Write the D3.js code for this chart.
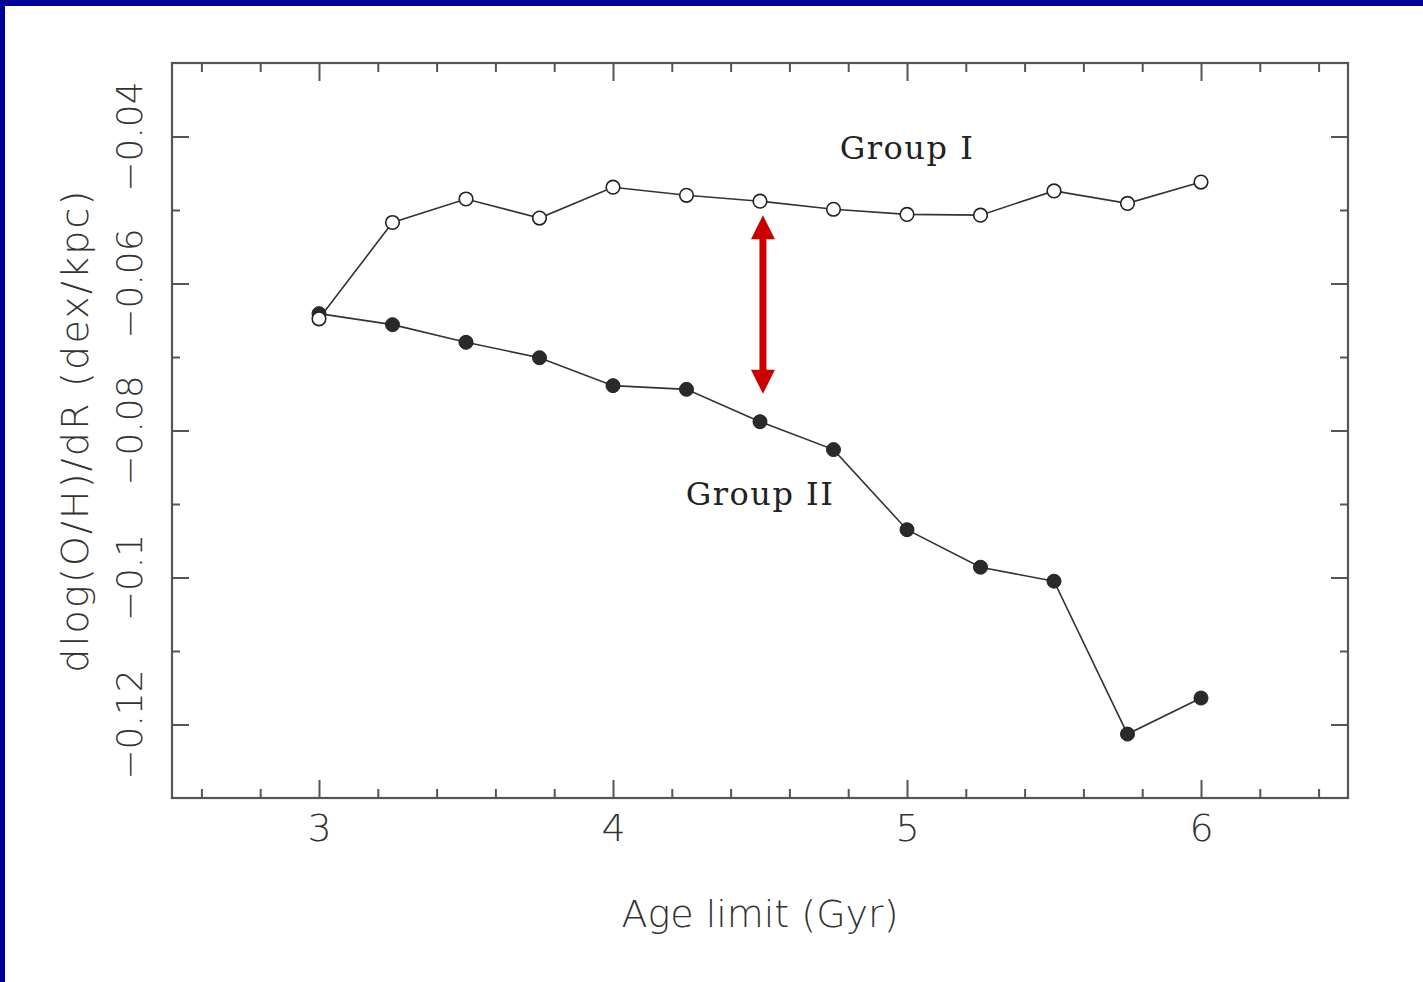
<!DOCTYPE html>
<html>
<head>
<meta charset="utf-8">
<script src="https://cdn.jsdelivr.net/npm/d3@7"></script>
<style>
  html, body { margin: 0; padding: 0; background: #fff; }
  svg { display: block; }
</style>
</head>
<body>
<svg id="chart" width="1423" height="982"></svg>
<script>
// ---- data ----
const ages = [3, 3.25, 3.5, 3.75, 4, 4.25, 4.5, 4.75, 5, 5.25, 5.5, 5.75, 6];
const groupI  = [-0.0648, -0.0517, -0.0485, -0.0511, -0.0469, -0.0480, -0.0488, -0.0499, -0.0506, -0.0507, -0.0474, -0.0491, -0.0462];
const groupII = [-0.0641, -0.0656, -0.0680, -0.0701, -0.0739, -0.0744, -0.0788, -0.0826, -0.0935, -0.0986, -0.1005, -0.1213, -0.1164];
const xMajorTicks = [3, 4, 5, 6];
const xMinorTicks = [2.6, 2.8, 3.2, 3.4, 3.6, 3.8, 4.2, 4.4, 4.6, 4.8, 5.2, 5.4, 5.6, 5.8, 6.2, 6.4];
const yMajorTicks = [-0.04, -0.06, -0.08, -0.1, -0.12];
const yMinorTicks = [-0.05, -0.07, -0.09, -0.11];
const yTickLabels = ["\u22120.04", "\u22120.06", "\u22120.08", "\u22120.1", "\u22120.12"];
const labels = [
  { text: "Group I",  x: 5.0,  y: -0.0431 },
  { text: "Group II", x: 4.5,  y: -0.0901 }
];
const arrow = { x: 4.51, yTop: -0.0507, yBottom: -0.0750 };
const xTitle = "Age limit (Gyr)";
const yTitle = "dlog(O/H)/dR (dex/kpc)";

// ---- layout ----
const svg = d3.select("#chart");
const W = 1423, H = 982;
const L = 172, R = 1348, T = 63, B = 798;
const axisColor = "#555";
const textColor = "#333";
const sansFont = "'DejaVu Sans', sans-serif";
const serifFont = "'DejaVu Serif', serif";

// blue frame (top and left)
svg.append("rect").attr("x", 0).attr("y", 0).attr("width", W).attr("height", H).attr("fill", "#fff");
svg.append("rect").attr("x", 0).attr("y", 0).attr("width", W).attr("height", 6).attr("fill", "#000099");
svg.append("rect").attr("x", 0).attr("y", 0).attr("width", 5).attr("height", H).attr("fill", "#000099");

const x = d3.scaleLinear().domain([2.5, 6.5]).range([L, R]);
const y = d3.scaleLinear().domain([-0.13, -0.03]).range([B, T]);

function styleAxis(g) {
  g.select(".domain").remove();
  g.selectAll(".tick line").attr("stroke", axisColor).attr("stroke-width", 2);
}

// bottom
svg.append("g").attr("transform", `translate(0,${B})`)
  .call(d3.axisBottom(x).tickValues(xMajorTicks).tickSize(-18).tickPadding(16).tickFormat(d3.format("d")))
  .call(styleAxis)
  .call(g => g.selectAll("text").attr("font-family", sansFont).attr("font-weight", 200)
      .attr("font-size", 38).attr("fill", textColor));
svg.append("g").attr("transform", `translate(0,${B})`)
  .call(d3.axisBottom(x).tickValues(xMinorTicks).tickSize(-9).tickFormat(""))
  .call(styleAxis);
// top
svg.append("g").attr("transform", `translate(0,${T})`)
  .call(d3.axisTop(x).tickValues(xMajorTicks).tickSize(-18).tickFormat(""))
  .call(styleAxis);
svg.append("g").attr("transform", `translate(0,${T})`)
  .call(d3.axisTop(x).tickValues(xMinorTicks).tickSize(-9).tickFormat(""))
  .call(styleAxis);
// left
svg.append("g").attr("transform", `translate(${L},0)`)
  .call(d3.axisLeft(y).tickValues(yMajorTicks).tickSize(-17).tickFormat((d, i) => yTickLabels[i]))
  .call(styleAxis)
  .call(g => g.selectAll("text").remove());
svg.append("g").attr("transform", `translate(${L},0)`)
  .call(d3.axisLeft(y).tickValues(yMinorTicks).tickSize(-8).tickFormat(""))
  .call(styleAxis);
// right
svg.append("g").attr("transform", `translate(${R},0)`)
  .call(d3.axisRight(y).tickValues(yMajorTicks).tickSize(-17).tickFormat(""))
  .call(styleAxis);
svg.append("g").attr("transform", `translate(${R},0)`)
  .call(d3.axisRight(y).tickValues(yMinorTicks).tickSize(-8).tickFormat(""))
  .call(styleAxis);

// rotated y tick labels
svg.append("g").selectAll("text").data(yMajorTicks).join("text")
  .attr("transform", d => `translate(142,${y(d)}) rotate(-90)`)
  .attr("text-anchor", "middle")
  .attr("font-family", sansFont).attr("font-weight", 200)
  .attr("font-size", 36).attr("fill", textColor)
  .text((d, i) => yTickLabels[i]);

// frame
svg.append("rect").attr("x", L).attr("y", T).attr("width", R - L).attr("height", B - T)
  .attr("fill", "none").attr("stroke", axisColor).attr("stroke-width", 2.2);

// axis titles
svg.append("text").attr("x", (L + R) / 2).attr("y", 927)
  .attr("text-anchor", "middle").attr("font-family", sansFont).attr("font-weight", 200)
  .attr("font-size", 38).attr("fill", textColor).text(xTitle);
svg.append("text").attr("transform", `translate(88,${(T + B) / 2}) rotate(-90)`)
  .attr("text-anchor", "middle").attr("font-family", sansFont).attr("font-weight", 200)
  .attr("font-size", 38).attr("letter-spacing", 2.2).attr("fill", textColor).text(yTitle);

// lines
const line = d3.line().x((d, i) => x(ages[i])).y(d => y(d));
svg.append("path").datum(groupI).attr("d", line)
  .attr("fill", "none").attr("stroke", "#333").attr("stroke-width", 1.6);
svg.append("path").datum(groupII).attr("d", line)
  .attr("fill", "none").attr("stroke", "#333").attr("stroke-width", 1.6);

// markers
svg.append("g").selectAll("circle").data(groupII).join("circle")
  .attr("cx", (d, i) => x(ages[i])).attr("cy", d => y(d)).attr("r", 7)
  .attr("fill", "#2a2a2a").attr("stroke", "#222").attr("stroke-width", 1);
svg.append("g").selectAll("circle").data(groupI).join("circle")
  .attr("cx", (d, i) => x(ages[i])).attr("cy", d => y(d)).attr("r", 6.8)
  .attr("fill", "#fff").attr("stroke", "#222").attr("stroke-width", 1.6);

// group labels
svg.append("g").selectAll("text").data(labels).join("text")
  .attr("x", d => x(d.x)).attr("y", d => y(d.y))
  .attr("text-anchor", "middle").attr("font-family", serifFont)
  .attr("font-size", 32).attr("letter-spacing", 1.5).attr("fill", "#222")
  .text(d => d.text);

// red double arrow
const ax = x(arrow.x), at = y(arrow.yTop), ab = y(arrow.yBottom);
const headH = 24, headW = 12, shaftW = 3.5;
svg.append("rect").attr("x", ax - shaftW).attr("y", at + headH - 2)
  .attr("width", shaftW * 2).attr("height", ab - at - 2 * headH + 4).attr("fill", "#cc0000");
svg.append("path").attr("d", `M${ax},${at} L${ax + headW},${at + headH} L${ax - headW},${at + headH} Z`).attr("fill", "#cc0000");
svg.append("path").attr("d", `M${ax},${ab} L${ax + headW},${ab - headH} L${ax - headW},${ab - headH} Z`).attr("fill", "#cc0000");
</script>
</body>
</html>
